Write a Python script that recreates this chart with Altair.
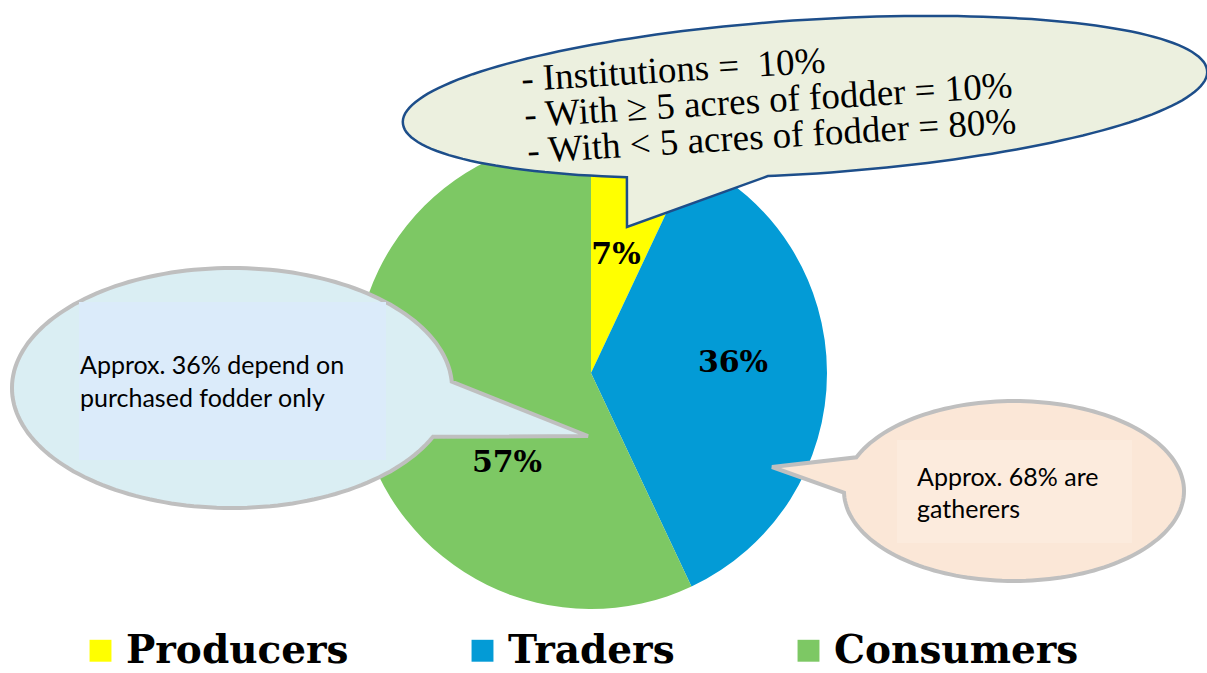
import math
import altair as alt
import pandas as pd

# ---------------- data ----------------
categories = ["Producers", "Traders", "Consumers"]
shares = [7, 36, 57]
slice_labels = ["7%", "36%", "57%"]
slice_colors = ["#FFFF00", "#039BD6", "#7DC864"]

top_note_lines = [
    "- Institutions =\u00a0 10%",
    "- With \u2265 5 acres of fodder = 10%",
    "- With < 5 acres of fodder = 80%",
]
left_note_lines = ["Approx. 36% depend on", "purchased fodder only"]
right_note_lines = ["Approx. 68% are", "gatherers"]

# ---------------- layout (pixels) ----------------
W, H = 1207, 673
PIE_CX, PIE_CY, PIE_R = 591, 373, 236
label_px = [616, 733, 507]
label_py = [255, 363, 463]

top_text_x = [522, 525, 528]
top_text_y = [91, 127, 163]
left_text_x = [80, 80]
left_text_y = [374, 407]
right_text_x = [917, 917]
right_text_y = [486, 518]


def bubble_path(a, b, tilt_deg, t_from, t_to, tip, step=2.0):
    th = math.radians(tilt_deg)
    ux, uy = math.cos(th), math.sin(th)
    vx, vy = -math.sin(th), math.cos(th)
    pts = []
    t = t_from
    while t < t_to:
        r = math.radians(t)
        pts.append((a * math.cos(r) * ux + b * math.sin(r) * vx,
                    a * math.cos(r) * uy + b * math.sin(r) * vy))
        t += step
    r = math.radians(t_to)
    pts.append((a * math.cos(r) * ux + b * math.sin(r) * vx,
                a * math.cos(r) * uy + b * math.sin(r) * vy))
    pts.append(tip)
    s = "M %.1f %.1f" % pts[0]
    for x, y in pts[1:]:
        s += " L %.1f %.1f" % (x, y)
    return s + " Z"


one = pd.DataFrame({"k": [0]})


def bubble(cx, cy, path, fill, stroke, sw):
    return alt.Chart(one).mark_point(
        shape=path, size=4, filled=True, fill=fill, stroke=stroke,
        strokeWidth=sw, opacity=1, fillOpacity=1, strokeOpacity=1,
        strokeJoin="miter",
    ).encode(x=alt.value(cx), y=alt.value(cy))


def inner_rect(x1, y1, x2, y2, color):
    return alt.Chart(one).mark_rect(color=color).encode(
        x=alt.value(x1), x2=alt.value(x2), y=alt.value(y1), y2=alt.value(y2))


def text_block(lines, xs, ys, font, size, weight="normal", angle=0):
    df = pd.DataFrame({"t": lines, "px": xs, "py": ys})
    return alt.Chart(df).mark_text(
        align="left", baseline="alphabetic", font=font, fontSize=size,
        fontWeight=weight, color="black", angle=angle,
    ).encode(
        x=alt.X("px:Q", scale=None), y=alt.Y("py:Q", scale=None), text="t:N")


pie_df = pd.DataFrame({
    "category": categories, "share": shares, "order": [0, 1, 2],
    "label": slice_labels, "px": label_px, "py": label_py,
})

pie = alt.Chart(pie_df).mark_arc(radius=PIE_R).encode(
    theta=alt.Theta("share:Q", stack=True),
    order=alt.Order("order:Q"),
    color=alt.Color(
        "category:N",
        scale=alt.Scale(domain=categories, range=slice_colors),
        sort=categories,
        legend=alt.Legend(
            title=None, orient="none", legendX=81, legendY=631,
            direction="horizontal", symbolType="square", symbolSize=480,
            symbolStrokeWidth=0, symbolOpacity=1,
            labelFont="DejaVu Serif", labelFontWeight="bold",
            labelFontSize=39, labelColor="black", labelLimit=800,
            labelOffset=6, columnPadding=114,
        ),
    ),
    x=alt.value(PIE_CX), y=alt.value(PIE_CY),
)

pie_labels = alt.Chart(pie_df).mark_text(
    font="DejaVu Serif", fontWeight="bold", fontSize=30, color="black",
    align="center", baseline="middle",
).encode(x=alt.X("px:Q", scale=None), y=alt.Y("py:Q", scale=None), text="label:N")

top_path = bubble_path(403, 77, -3.7, 117, 456, (627 - 805, 227 - 97))
left_path = bubble_path(220, 120, 0, 24, 357, (588 - 232, 436 - 388))
right_path = bubble_path(170, 90, 0, 202, 539, (772 - 1014, 467 - 491))

layers = [
    pie,
    pie_labels,
    bubble(805, 97, top_path, "#ECF0DF", "#1D4E8A", 2.5),
    bubble(232, 388, left_path, "#DAEEF3", "#BFBFBF", 4),
    inner_rect(79, 302, 386, 460, "#DBEBFA"),
    bubble(1014, 491, right_path, "#FBE7D7", "#BFBFBF", 4),
    inner_rect(897, 440, 1132, 543, "#FCEBDD"),
    text_block(top_note_lines, top_text_x, top_text_y, "Liberation Serif", 37, angle=356.5),
    text_block(left_note_lines, left_text_x, left_text_y, "Lato", 25),
    text_block(right_note_lines, right_text_x, right_text_y, "Lato", 25),
]

chart = alt.layer(*layers).properties(
    width=W, height=H, padding=0, autosize="none", background="white"
).configure_view(stroke=None)

chart.save("out.html", embed_options={"renderer": "svg", "actions": False})
